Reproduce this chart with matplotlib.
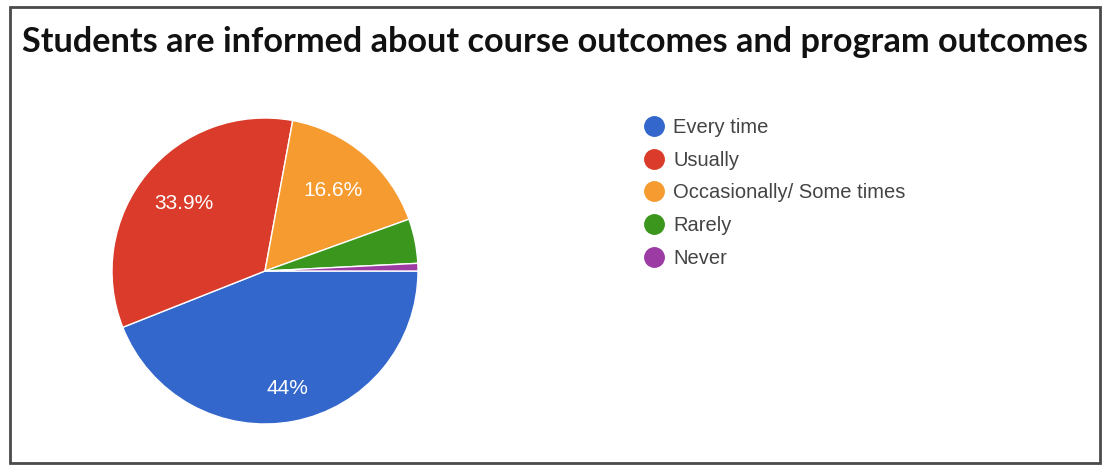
import matplotlib
matplotlib.use("Agg")
import matplotlib.pyplot as plt
from matplotlib.lines import Line2D
from matplotlib.patches import Rectangle
import numpy as np

title = "Students are informed about course outcomes and program outcomes"
categories = ["Every time", "Usually", "Occasionally/ Some times", "Rarely", "Never"]
values = [44.0, 33.9, 16.6, 4.7, 0.8]
pct_labels = ["44%", "33.9%", "16.6%", "", ""]
colors = ["#3367cc", "#da3b2a", "#f59b30", "#3b961e", "#9b3ba3"]

W, H = 1104, 466
fig = plt.figure(figsize=(W / 100, H / 100), dpi=100)
fig.patch.set_facecolor("white")

# frame
fig.patches.append(Rectangle((10 / W, 1 - 463 / H), 1090 / W, 456 / H,
                             transform=fig.transFigure, fill=False,
                             edgecolor="#4a4a4a", linewidth=2))

fig.text(555 / W, 1 - 42 / H, title, ha="center", va="center",
         fontsize=24.7, fontweight="bold", family="Lato", color="#111111")

cx, cy, r = 265, 271, 153
ax = fig.add_axes([(cx - r) / W, (H - cy - r) / H, 2 * r / W, 2 * r / H])
wedges, _ = ax.pie(values, colors=colors, startangle=0, counterclock=False,
                   wedgeprops=dict(edgecolor="white", linewidth=1))
ax.set_xlim(-1, 1)
ax.set_ylim(-1, 1)
ax.axis("off")

dists = [0.78, 0.69, 0.69, 0.7, 0.7]
for w, lab, d in zip(wedges, pct_labels, dists):
    if not lab:
        continue
    th = np.deg2rad((w.theta1 + w.theta2) / 2)
    ax.text(d * np.cos(th), d * np.sin(th), lab, ha="center", va="center",
            color="white", fontsize=15, family="Liberation Sans")

handles = [Line2D([], [], marker="o", linestyle="none", markersize=14,
                  markerfacecolor=c, markeredgecolor=c) for c in colors]
leg = fig.legend(handles, categories, loc="upper left",
                 bbox_to_anchor=(644 / W, 1 - 118 / H), frameon=False,
                 prop=dict(family="Liberation Sans", size=14.5),
                 handlelength=1.0, handletextpad=0.45, labelspacing=0.68,
                 borderpad=0, borderaxespad=0)
for t in leg.get_texts():
    t.set_color("#444444")

fig.savefig("out.png", dpi=100)
